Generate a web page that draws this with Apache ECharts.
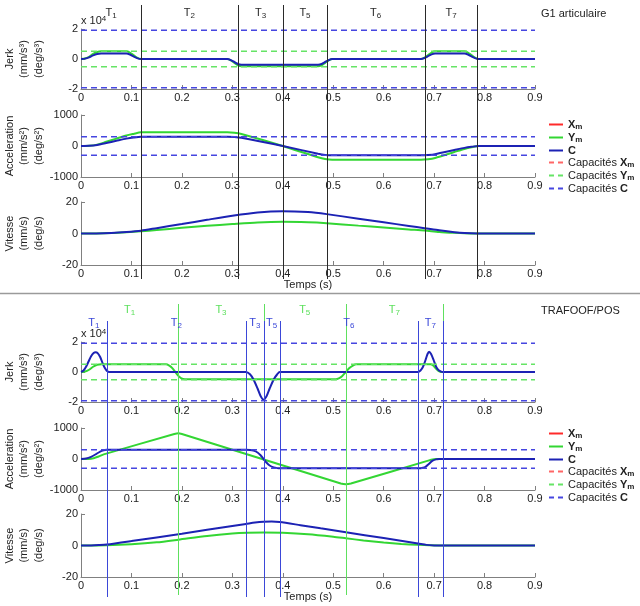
<!DOCTYPE html>
<html><head><meta charset="utf-8">
<script src="https://cdn.jsdelivr.net/npm/echarts@6/dist/echarts.min.js"></script>
<style>html,body{margin:0;padding:0;background:#fff}#c{width:640px;height:606px}</style>
</head><body><div id="c"></div>
<script>
// ---------------- DATA ----------------
// Group 1 : G1 articulaire
const g1JerkT = [0,0.008,0.016,0.024,0.032,0.04,0.09,0.097,0.104,0.111,0.119,0.29,0.297,0.304,0.311,0.318,0.47,0.477,0.484,0.491,0.498,0.674,0.681,0.688,0.695,0.702,0.76,0.767,0.774,0.781,0.788,0.9];
const g1JerkYm = [0,300,1500,3400,4700,5100,5100,4300,2600,900,0,0,-900,-2600,-4200,-4800,-4800,-4200,-2600,-900,0,0,900,2600,4300,5100,5100,4300,2600,900,0,0];
const g1JerkC = [0,250,1100,2400,3300,3600,3600,3000,1800,600,0,0,-700,-2000,-3300,-3800,-3800,-3300,-2000,-700,0,0,650,1900,3100,3600,3600,3000,1800,600,0,0];
const g1AccT = [0,0.016,0.032,0.05,0.07,0.09,0.104,0.119,0.29,0.304,0.318,0.4,0.47,0.484,0.498,0.674,0.688,0.702,0.74,0.76,0.774,0.788,0.9];
const g1AccYm = [0,8,45,135,237,338,390,440,440,425,385,0,-365,-420,-440,-440,-425,-385,-195,-95,-40,0,0];
const g1AccC = [0,6,32,95,167,238,275,300,300,290,265,0,-250,-288,-300,-300,-290,-265,-130,-60,-25,0,0];
const g1VelT = [0,0.03,0.06,0.09,0.119,0.15,0.2,0.25,0.3,0.35,0.4,0.45,0.487,0.55,0.6,0.65,0.681,0.71,0.74,0.76,0.786,0.9];
const g1VelC = [0,0.05,0.35,0.95,1.8,3.4,6.0,8.7,11.3,13.4,14.2,13.6,12.3,9.4,7.1,4.8,3.4,2.0,0.8,0.25,0,0];
const g1VelYm = [0,0.03,0.25,0.75,1.4,2.2,3.6,4.9,6.0,7.0,7.4,7.1,6.5,5.0,3.8,2.6,1.9,1.0,0.4,0.12,0,0];
const g1Bounds = [0.119,0.311,0.401,0.487,0.681,0.786];
const g1Phases = ['1','2','3','5','6','7'];

// Group 2 : TRAFOOF/POS
const g2JerkYmT = [0,0.008,0.016,0.024,0.032,0.04,0.168,0.175,0.181,0.187,0.193,0.199,0.206,0.505,0.511,0.518,0.525,0.532,0.539,0.546,0.693,0.698,0.703,0.708,0.713,0.9];
const g2JerkYm = [0,300,1500,3500,4800,5100,5100,4300,2600,0,-2600,-4200,-4800,-4800,-4200,-2600,0,2600,4300,5100,5100,4300,2500,800,0,0];
const g2JerkCT = [0,0.005,0.01,0.015,0.02,0.025,0.029,0.033,0.038,0.043,0.047,0.051,0.056,0.327,0.335,0.342,0.35,0.356,0.362,0.368,0.374,0.382,0.389,0.394,0.668,0.673,0.678,0.683,0.687,0.69,0.694,0.699,0.704,0.709,0.714,0.717,0.9];
const g2JerkC = [0,1000,3500,7000,10500,12600,13100,12600,10000,5800,2800,900,0,0,-1500,-5000,-11000,-16000,-18500,-16000,-11000,-5000,-1500,0,0,1000,3500,8000,12000,13500,12000,8000,3500,1200,200,0,0];
const g2AccYmT = [0,0.015,0.025,0.035,0.045,0.185,0.193,0.2,0.515,0.525,0.535,0.69,0.697,0.703,0.71,0.9];
const g2AccYm = [0,2,25,80,150,805,830,805,-790,-815,-790,-45,-15,-3,0,0];
const g2AccCT = [0,0.01,0.02,0.029,0.038,0.045,0.051,0.056,0.327,0.335,0.342,0.35,0.356,0.362,0.368,0.374,0.382,0.389,0.394,0.668,0.673,0.678,0.683,0.69,0.697,0.704,0.71,0.717,0.9];
const g2AccC = [0,15,70,150,240,280,297,300,300,294,270,210,120,0,-120,-210,-270,-294,-300,-300,-297,-285,-250,-150,-55,-12,-2,0,0];
const g2VelCT = [0,0.02,0.035,0.051,0.1,0.2,0.3,0.327,0.345,0.362,0.378,0.394,0.435,0.475,0.525,0.6,0.668,0.685,0.7,0.712,0.9];
const g2VelC = [0,0.05,0.25,0.6,2.8,7.5,12.4,13.7,14.6,15.1,15.2,14.9,12.9,10.9,8.4,4.7,1.3,0.4,0.05,0,0];
const g2VelYmT = [0,0.05,0.1,0.15,0.193,0.25,0.3,0.33,0.362,0.4,0.45,0.5,0.525,0.56,0.6,0.635,0.668,0.69,0.71,0.9];
const g2VelYm = [0,0.15,0.8,2.0,3.7,6.1,7.6,8.1,8.3,8.1,7.2,5.6,4.6,3.2,1.9,1.0,0.4,0.1,0,0];
const g2GreenBounds = [0.193,0.362,0.525,0.717];
const g2GreenPhases = ['1','3','5','7'];
const g2BlueBounds = [0.051,0.327,0.362,0.394,0.668,0.717];
const g2BluePhases = ['1','2','3','5','6','7'];

// capacities
const capJerkC = 19200, capJerkYm = 5200, capAccC = 300;

// axes
const timeRange = [0, 0.9], timeStep = 0.1;
const jerkRange = [-20000, 20000], jerkStep = 20000;
const accRange = [-1000, 1000], accStep = 1000;
const velRange = [-20, 20], velStep = 20;
const yNames = ['Jerk\n(mm/s³)\n(deg/s³)', 'Acceleration\n(mm/s²)\n(deg/s²)', 'Vitesse\n(mm/s)\n(deg/s)'];
const xName = 'Temps (s)';
const titles = ['G1 articulaire', 'TRAFOOF/POS'];
const legendNames = ['Xm','Ym','C','Capacités Xm','Capacités Ym','Capacités C'];

// ---------------- CHART ----------------
const FONT = '"Liberation Sans", Arial, Helvetica, sans-serif';
const COL = {Xm:'#ff2a2a', Ym:'#33d633', C:'#1c22b4', capXm:'#ff6666', capYm:'#66e466', capC:'#4646e0'};
const AX = '#808080', TXT = '#222';
const zip = (t, v) => t.map((x, i) => [x, v[i]]);
const gridPos = [
  {top:29, height:60},{top:115, height:62},{top:202, height:63},
  {top:342, height:60},{top:428, height:62},{top:514, height:63}
];
const grid = gridPos.map(g => ({left:81, width:454, top:g.top, height:g.height, outerBoundsMode:'none', containLabel:false}));
const xAxis = grid.map((g, i) => ({
  type:'value', gridIndex:i, min:timeRange[0], max:timeRange[1], interval:timeStep,
  axisLine:{onZero:false, lineStyle:{color:AX, width:1}},
  axisTick:{inside:true, length:4, lineStyle:{color:AX}},
  axisLabel:{margin:3, color:TXT, fontSize:11, fontFamily:FONT, formatter:v => v === 0 ? '0' : v.toFixed(1)},
  splitLine:{show:false},
  name:(i === 2 || i === 5) ? xName : '', nameLocation:'middle', nameGap:14, nameMoveOverlap:false,
  nameTextStyle:{color:TXT, fontSize:11, fontFamily:FONT}
}));
const yr = [[jerkRange, jerkStep, v => String(Math.round(v / 10000))], [accRange, accStep, v => String(v)], [velRange, velStep, v => String(v)]];
const yAxis = grid.map((g, i) => {
  const k = i % 3; const r = yr[k];
  return {
    type:'value', gridIndex:i, min:r[0][0], max:r[0][1], interval:r[1],
    axisLine:{show:true, onZero:false, lineStyle:{color:AX, width:1}},
    axisTick:{show:true, inside:true, length:4, lineStyle:{color:AX}},
    axisLabel:{margin:3, color:TXT, fontSize:11, fontFamily:FONT, formatter:r[2]},
    splitLine:{show:false},
    name:yNames[k], nameLocation:'middle', nameRotate:90, nameGap:35, nameMoveOverlap:false,
    nameTextStyle:{color:TXT, fontSize:11, fontFamily:FONT, lineHeight:14.5, align:'center'}
  };
});
function line(name, gi, data, color, dashed) {
  return {
    type:'line', name, xAxisIndex:gi, yAxisIndex:gi, data, symbol:'none', showSymbol:false,
    smooth: dashed ? false : 0.25, animation:false, silent:true,
    lineStyle:{color, width: dashed ? 1.4 : 2, type: dashed ? [6,4] : 'solid'},
    itemStyle:{color}, z: dashed ? 3 : 2
  };
}
const capLine = (gi, v) => [[timeRange[0], v], [timeRange[1], v]];
const series = [];
// legend-only entries (not visible in plots)
series.push(line('Xm', 0, [], COL.Xm, false));
series.push(line('Capacités Xm', 0, [], COL.capXm, true));
function group(off, jYmT, jYm, jCT, jC, aYmT, aYm, aCT, aC, vYmT, vYm, vCT, vC) {
  series.push(line('Ym', off, zip(jYmT, jYm), COL.Ym));
  series.push(line('C', off, zip(jCT, jC), COL.C));
  series.push(line('Capacités Ym', off, capLine(off, capJerkYm), COL.capYm, true));
  series.push(line('Capacités Ym', off, capLine(off, -capJerkYm), COL.capYm, true));
  series.push(line('Capacités C', off, capLine(off, capJerkC), COL.capC, true));
  series.push(line('Capacités C', off, capLine(off, -capJerkC), COL.capC, true));
  series.push(line('Ym', off + 1, zip(aYmT, aYm), COL.Ym));
  series.push(line('C', off + 1, zip(aCT, aC), COL.C));
  series.push(line('Capacités C', off + 1, capLine(off + 1, capAccC), COL.capC, true));
  series.push(line('Capacités C', off + 1, capLine(off + 1, -capAccC), COL.capC, true));
  series.push(line('Ym', off + 2, zip(vYmT, vYm), COL.Ym));
  series.push(line('C', off + 2, zip(vCT, vC), COL.C));
}
group(0, g1JerkT, g1JerkYm, g1JerkT, g1JerkC, g1AccT, g1AccYm, g1AccT, g1AccC, g1VelT, g1VelYm, g1VelT, g1VelC);
group(3, g2JerkYmT, g2JerkYm, g2JerkCT, g2JerkC, g2AccYmT, g2AccYm, g2AccCT, g2AccC, g2VelYmT, g2VelYm, g2VelCT, g2VelC);

const legendFmt = {
  'Xm':'{b|X}{s|m}', 'Ym':'{b|Y}{s|m}', 'C':'{b|C}',
  'Capacités Xm':'{n|Capacités }{b|X}{s|m}', 'Capacités Ym':'{n|Capacités }{b|Y}{s|m}', 'Capacités C':'{n|Capacités }{b|C}'
};
const rich = {
  n:{fontSize:11, fontFamily:FONT, color:TXT, lineHeight:13},
  b:{fontSize:11, fontFamily:FONT, color:TXT, fontWeight:'bold', lineHeight:13},
  s:{fontSize:8, fontFamily:FONT, color:TXT, fontWeight:'bold', lineHeight:8, verticalAlign:'bottom'}
};
const ICON_SOLID = 'path://M0,0H14V2H0Z';
const ICON_DASH = 'path://M0,0H5V2H0Z M9,0H14V2H9Z';
const mkLegend = top => ({
  data:legendNames.map(n => ({name:n, icon: n.indexOf('Capacit') === 0 ? ICON_DASH : ICON_SOLID})),
  orient:'vertical', left:549, top, padding:0, itemWidth:14, itemHeight:2, itemGap:1,
  selectedMode:false, formatter:n => legendFmt[n],
  textStyle:{fontSize:11, fontFamily:FONT, color:TXT, rich}
});

const chart = echarts.init(document.getElementById('c'), null, {renderer:'canvas'});
chart.setOption({
  animation:false, backgroundColor:'#fff',
  grid, xAxis, yAxis, series,
  legend:[mkLegend(119), mkLegend(428)]
});

// ------------- annotations positioned through the axis scale -------------
const px = t => chart.convertToPixel({xAxisIndex:0}, t);
const gfx = [];
const tRich = c => ({
  t:{fontSize:11, fontFamily:FONT, fill:c, lineHeight:13},
  s:{fontSize:8, fontFamily:FONT, fill:c, lineHeight:8, verticalAlign:'bottom'}
});
function txt(x, y, text, c, align, r) {
  gfx.push({type:'text', x, y, z:10, silent:true,
    style:{text, fill:c, fontSize:11, fontFamily:FONT, align:align || 'center', verticalAlign:'middle',
      textAlign:align || 'center', textVerticalAlign:'middle', rich:r}});
}
function vlines(bounds, names, y1, y2, color, labelY) {
  bounds.forEach((b, i) => {
    const x = Math.round(px(b)) + 0.5;
    gfx.push({type:'line', silent:true, z:9, shape:{x1:x, y1, x2:x, y2}, style:{stroke:color, lineWidth:1}});
    const start = i === 0 ? 0 : bounds[i - 1];
    txt(px((start + b) / 2), labelY, '{t|T}{s|' + names[i] + '}', color, 'center', tRich(color));
  });
}
vlines(g1Bounds, g1Phases, 5, 279, '#2a2a2a', 13);
vlines(g2GreenBounds, g2GreenPhases, 304, 595, '#5ee05e', 310);
vlines(g2BlueBounds, g2BluePhases, 321, 597, '#3b48d8', 323);
// separator
gfx.push({type:'line', silent:true, shape:{x1:0, y1:293.5, x2:640, y2:293.5}, style:{stroke:'#9a9a9a', lineWidth:1.5}});
// titles
txt(541, 14, titles[0], TXT, 'left');
txt(541, 311, titles[1], TXT, 'left');
// exponent labels
const expRich = {
  m:{fontSize:11, fontFamily:FONT, fill:TXT, lineHeight:13},
  p:{fontSize:8, fontFamily:FONT, fill:TXT, lineHeight:8, verticalAlign:'top'}
};
txt(81, 21, '{m|x 10}{p|4}', TXT, 'left', expRich);
txt(81, 334, '{m|x 10}{p|4}', TXT, 'left', expRich);
chart.setOption({graphic:{elements:gfx}});
</script></body></html>
